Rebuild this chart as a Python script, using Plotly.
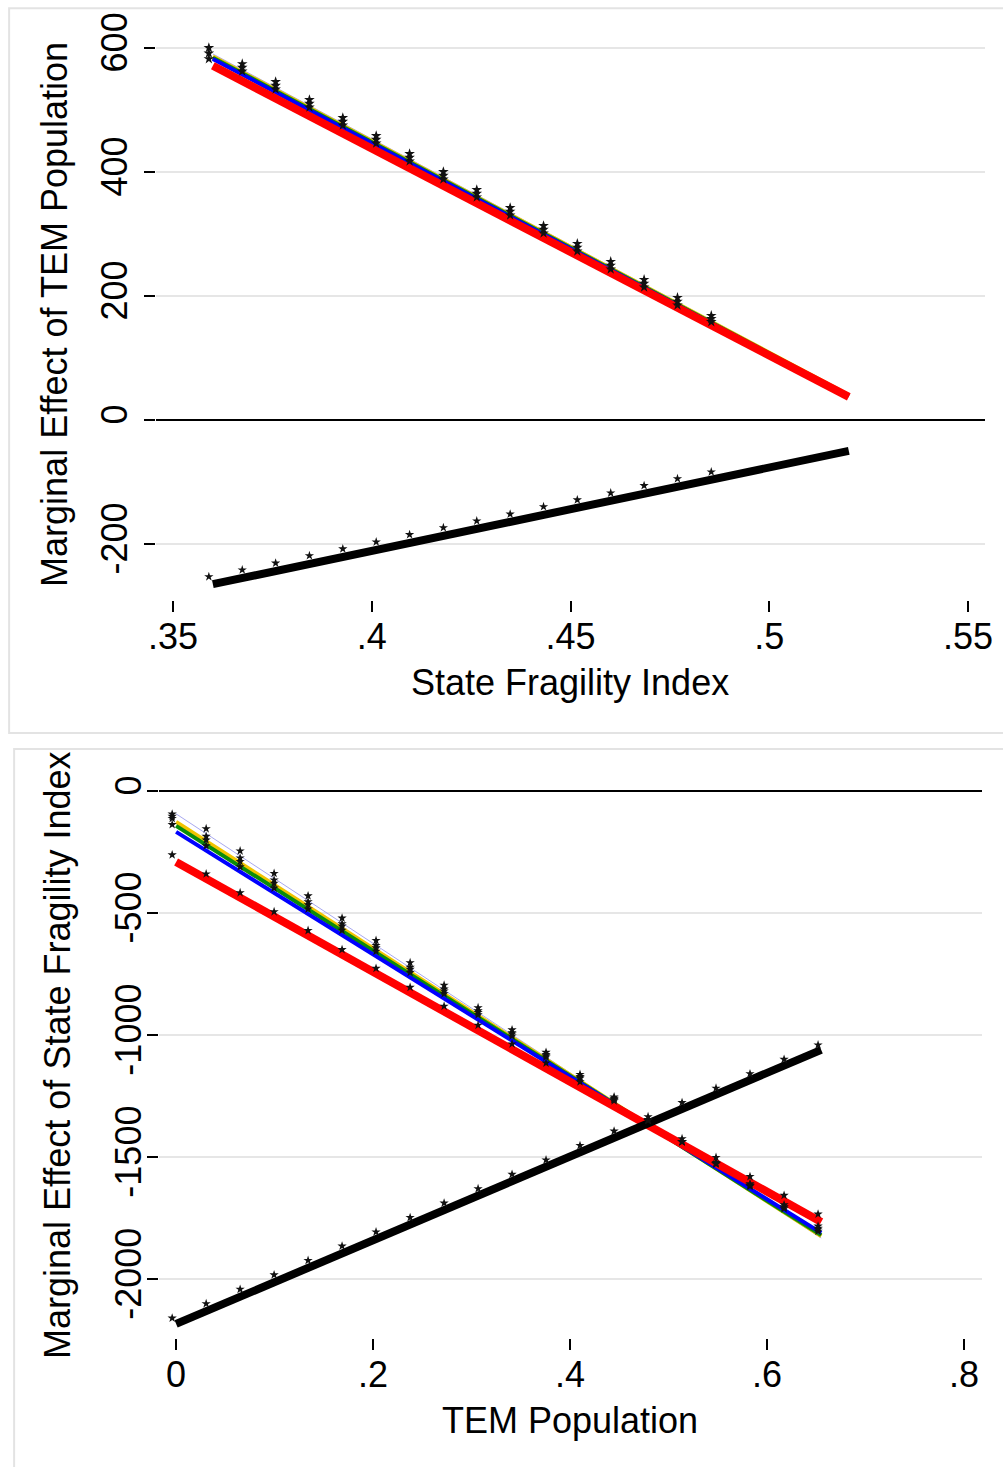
import plotly.graph_objects as go

# ---------------- data: top panel (marginal effect of TEM population) ----------------
top_line_x = [0.36, 0.52]
top_lav = [590, 42]
top_yellow = [586, 40]
top_green = [584, 39]
top_blue = [582, 38]
top_red = [571, 37]
top_black = [-265, -50]

top_star_x = [0.359, 0.3674, 0.3758, 0.3843, 0.3927, 0.4011, 0.4095, 0.4180,
              0.4264, 0.4348, 0.4432, 0.4517, 0.4601, 0.4685, 0.4769, 0.4854]
top_stars_a = [600, 574, 545, 516, 487, 458, 429, 400, 371, 342, 313, 284, 255, 226, 197, 168]
top_stars_b = [591, 568, 539, 510, 481, 452, 423, 394, 365, 336, 307, 278, 249, 220, 191, 163]
top_stars_c = [582, 562, 533, 504, 475, 446, 417, 388, 359, 330, 301, 272, 243, 214, 185, 158]
top_stars_low = [-253, -242, -231, -219, -208, -197, -185, -174, -163, -152,
                 -140, -129, -118, -106, -95, -84]

top_xticks = [0.35, 0.4, 0.45, 0.5, 0.55]
top_xlabels = [".35", ".4", ".45", ".5", ".55"]
top_yticks = [600, 400, 200, 0, -200]
top_ylabels = ["600", "400", "200", "0", "-200"]

# ---------------- data: bottom panel (marginal effect of State Fragility Index) ----------------
bot_line_x = [0.0, 0.655]
bot_lav = [-94, -1832]
bot_yellow = [-127, -1824]
bot_green = [-143, -1820]
bot_blue = [-168, -1811]
bot_red = [-291, -1766]
bot_black = [-2184, -1061]

bot_star_x = [-0.004, 0.0305, 0.065, 0.0995, 0.134, 0.1685, 0.203, 0.2376, 0.2721, 0.3066,
              0.3411, 0.3756, 0.4101, 0.4447, 0.4792, 0.5137, 0.5482, 0.5827, 0.6173, 0.6518]
bot_stars_lav = [-95, -155, -246, -338, -430, -521, -613, -704, -796, -888,
                 -979, -1071, -1162, -1254, -1346, -1437, -1529, -1620, -1712, -1804]
bot_stars_yellow = [-104, -186, -275, -365, -454, -544, -633, -723, -812, -901,
                    -991, -1080, -1170, -1259, -1349, -1438, -1527, -1617, -1706, -1796]
bot_stars_green = [-113, -201, -289, -378, -466, -554, -643, -731, -820, -908,
                   -996, -1085, -1173, -1262, -1350, -1438, -1527, -1615, -1704, -1792]
bot_stars_blue = [-138, -225, -311, -398, -484, -571, -657, -744, -831, -917,
                  -1004, -1090, -1177, -1264, -1350, -1437, -1523, -1610, -1696, -1783]
bot_stars_red = [-262, -340, -417, -495, -572, -650, -727, -805, -882, -960,
                 -1037, -1115, -1192, -1270, -1347, -1425, -1502, -1580, -1657, -1734]
bot_stars_black = [-2160, -2101, -2042, -1983, -1924, -1865, -1807, -1748, -1689, -1630,
                   -1571, -1512, -1453, -1394, -1335, -1277, -1218, -1159, -1100, -1041]

bot_xticks = [0, 0.2, 0.4, 0.6, 0.8]
bot_xlabels = ["0", ".2", ".4", ".6", ".8"]
bot_yticks = [0, -500, -1000, -1500, -2000]
bot_ylabels = ["0", "-500", "-1000", "-1500", "-2000"]

# ---------------- styles ----------------
FONT = "Liberation Sans, Arial, sans-serif"
C_LAV = "#a8a8f0"
C_YEL = "#f2c400"
C_GRN = "#0a8c0a"
C_BLU = "#0000ff"
C_RED = "#ff0000"
C_BLK = "#000000"

fig = go.Figure()


def add_lines(x, series, xa, ya):
    for y, color, width in series:
        fig.add_trace(go.Scatter(x=x, y=y, mode="lines", xaxis=xa, yaxis=ya,
                                 line=dict(color=color, width=width),
                                 showlegend=False, hoverinfo="skip"))


def add_stars(x, ys, xa, ya, size=7):
    for y in ys:
        fig.add_trace(go.Scatter(x=x, y=y, mode="markers", xaxis=xa, yaxis=ya,
                                 marker=dict(symbol="star", size=size, color="#111111",
                                             line=dict(width=0)),
                                 showlegend=False, hoverinfo="skip"))


add_lines(top_line_x, [(top_lav, C_LAV, 1), (top_yellow, C_YEL, 4), (top_green, C_GRN, 4),
                       (top_blue, C_BLU, 4), (top_red, C_RED, 8), (top_black, C_BLK, 8)], "x", "y")
add_stars(top_star_x, [top_stars_a, top_stars_b, top_stars_c], "x", "y", size=8)
add_stars(top_star_x, [top_stars_low], "x", "y", size=7)

add_lines(bot_line_x, [(bot_lav, C_LAV, 1), (bot_yellow, C_YEL, 4), (bot_green, C_GRN, 4),
                       (bot_blue, C_BLU, 4), (bot_red, C_RED, 8), (bot_black, C_BLK, 8)], "x2", "y2")
add_stars(bot_star_x, [bot_stars_lav, bot_stars_yellow, bot_stars_green, bot_stars_blue,
                       bot_stars_red, bot_stars_black], "x2", "y2", size=7)

# the captured page is slightly offset and scaled relative to the figure; compensate
SX, OX = 0.9843, 8.0
SY, OY = 0.995, 7.3
W, H = 1012, 1468


def px_x(p):
    return (p / SX - OX) / W


def px_y(p):
    return 1 - (p / SY - OY) / H


axis_common = dict(showline=False, ticks="outside", ticklen=11, tickwidth=2, tickcolor="black",
                   tickfont=dict(family=FONT, size=36, color="black"), tickmode="array")

fig.update_layout(
    width=W, height=H, margin=dict(l=0, r=0, t=0, b=0),
    paper_bgcolor="white", plot_bgcolor="white",
    font=dict(family=FONT, color="black"),
    xaxis=dict(domain=[px_x(156), px_x(985)], range=[0.35 - 17 / 3980, 0.55 + 17 / 3980],
               tickvals=top_xticks, ticktext=top_xlabels, showgrid=False, zeroline=False,
               ticklabelstandoff=-6, anchor="y", **axis_common),
    yaxis=dict(domain=[px_y(600), px_y(20)], range=[(420 - 600) / 0.62, (420 - 20) / 0.62],
               tickvals=top_yticks, ticktext=top_ylabels, tickangle=-90,
               showgrid=True, gridcolor="#e6e6e6", gridwidth=2,
               zeroline=True, zerolinecolor="black", zerolinewidth=2,
               ticklabelstandoff=3, anchor="x", **axis_common),
    xaxis2=dict(domain=[px_x(159), px_x(982)], range=[(159 - 176) / 985, (982 - 176) / 985],
                tickvals=bot_xticks, ticktext=bot_xlabels, showgrid=False, zeroline=False,
                ticklabelstandoff=-6, anchor="y2", **axis_common),
    yaxis2=dict(domain=[px_y(1338), px_y(765)], range=[(791 - 1338) / 0.244, (791 - 765) / 0.244],
                tickvals=bot_yticks, ticktext=bot_ylabels, tickangle=-90,
                showgrid=True, gridcolor="#e6e6e6", gridwidth=2,
                zeroline=True, zerolinecolor="black", zerolinewidth=2,
                ticklabelstandoff=-8, anchor="x2", **axis_common),
)

# panel frames
fig.add_shape(type="rect", xref="paper", yref="paper",
              x0=px_x(9), x1=1.03, y0=px_y(733), y1=px_y(8.5),
              line=dict(color="#e3e3e3", width=2), fillcolor="rgba(0,0,0,0)", layer="below")
fig.add_shape(type="rect", xref="paper", yref="paper",
              x0=px_x(14), x1=1.03, y0=-0.03, y1=px_y(749),
              line=dict(color="#e3e3e3", width=2), fillcolor="rgba(0,0,0,0)", layer="below")

# axis titles
title_font = dict(family=FONT, size=36, color="black")
fig.add_annotation(text="State Fragility Index", xref="paper", yref="paper",
                   x=px_x(570), y=px_y(683), showarrow=False, font=title_font,
                   xanchor="center", yanchor="middle")
fig.add_annotation(text="Marginal Effect of TEM Population", xref="paper", yref="paper",
                   x=px_x(55), y=px_y(315), showarrow=False, font=title_font, textangle=-90,
                   xanchor="center", yanchor="middle")
fig.add_annotation(text="TEM Population", xref="paper", yref="paper",
                   x=px_x(570), y=px_y(1420), showarrow=False, font=title_font,
                   xanchor="center", yanchor="middle")
fig.add_annotation(text="Marginal Effect of State Fragility Index", xref="paper", yref="paper",
                   x=px_x(58), y=px_y(1055), showarrow=False, font=title_font, textangle=-90,
                   xanchor="center", yanchor="middle")

fig.write_html("out.html")
